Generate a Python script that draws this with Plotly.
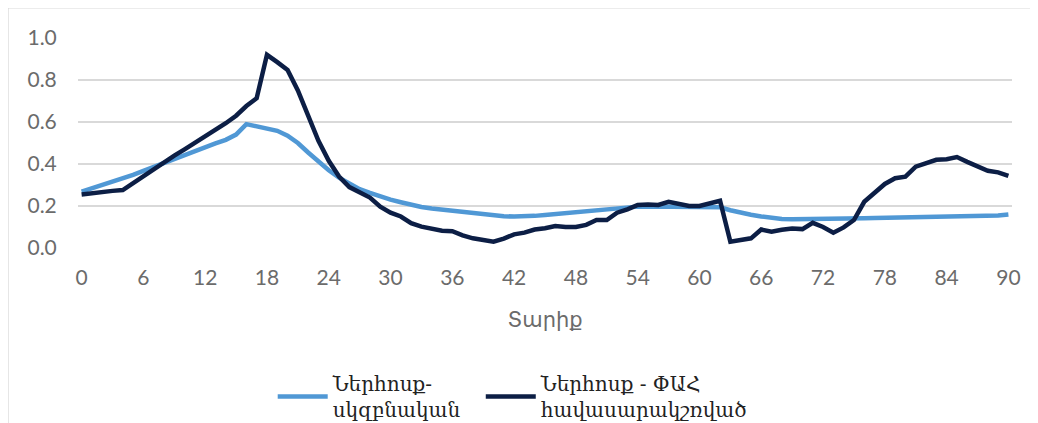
import plotly.graph_objects as go

days = list(range(0, 91))

inflow_initial = [
    0.268, 0.283, 0.298, 0.314, 0.330, 0.348, 0.367, 0.386, 0.405, 0.425,
    0.445, 0.463, 0.480, 0.498, 0.515, 0.540, 0.590, 0.578, 0.570, 0.558,
    0.535, 0.500, 0.455, 0.410, 0.370, 0.335, 0.305, 0.280, 0.262, 0.245,
    0.230, 0.218, 0.205, 0.195, 0.188, 0.182, 0.178, 0.172, 0.166, 0.160,
    0.155, 0.151, 0.150, 0.150, 0.153, 0.157, 0.162, 0.166, 0.170, 0.174,
    0.178, 0.183, 0.188, 0.193, 0.197, 0.198, 0.198, 0.197, 0.196, 0.196,
    0.196, 0.196, 0.194, 0.180, 0.168, 0.158, 0.150, 0.142, 0.138, 0.137,
    0.137, 0.137, 0.137, 0.138, 0.140, 0.141, 0.142, 0.143, 0.144, 0.145,
    0.146, 0.148, 0.149, 0.150, 0.151, 0.152, 0.152, 0.152, 0.152, 0.155,
    0.160,
]

inflow_balanced = [
    0.255, 0.262, 0.268, 0.272, 0.276, 0.310, 0.343, 0.376, 0.410, 0.440,
    0.470, 0.500, 0.530, 0.560, 0.594, 0.630, 0.676, 0.713, 0.920, 0.885,
    0.848, 0.750, 0.630, 0.510, 0.415, 0.340, 0.290, 0.265, 0.240, 0.197,
    0.168, 0.150, 0.118, 0.102, 0.092, 0.082, 0.080, 0.060, 0.046, 0.038,
    0.030, 0.045, 0.065, 0.073, 0.088, 0.094, 0.105, 0.100, 0.100, 0.110,
    0.133, 0.133, 0.168, 0.184, 0.205, 0.207, 0.205, 0.220, 0.212, 0.200,
    0.200, 0.215, 0.225, 0.030, 0.040, 0.046, 0.088, 0.078, 0.087, 0.093,
    0.090, 0.120, 0.100, 0.073, 0.098, 0.133, 0.220, 0.260, 0.305, 0.332,
    0.340, 0.387, 0.405, 0.420, 0.423, 0.433, 0.410, 0.390, 0.368, 0.360,
    0.343,
]

x_ticks = list(range(0, 91, 6))
y_ticks = [0.0, 0.2, 0.4, 0.6, 0.8, 1.0]
y_tick_text = ["0.0", "0.2", "0.4", "0.6", "0.8", "1.0"]

name_initial = "Ներհոսք-<br>սկզբնական"
name_balanced = "Ներհոսք - ՓԱՀ<br>հավասարակշռված"
x_title = "Տարիք"

fig = go.Figure()
fig.add_trace(go.Scatter(
    x=days, y=inflow_initial, mode="lines", name=name_initial,
    line=dict(color="#5098D5", width=4.5), legend="legend",
))
fig.add_trace(go.Scatter(
    x=days, y=inflow_balanced, mode="lines", name=name_balanced,
    line=dict(color="#0C1E45", width=4.5), legend="legend2",
))

tick_font = dict(family="Lato, 'DejaVu Sans', sans-serif", size=21, color="#6B6B6B")
legend_font = dict(family="'DejaVu Serif', serif", size=20, color="#222222")

fig.update_layout(
    width=1030, height=415,
    margin=dict(l=70, r=26, t=30, b=175, autoexpand=False),
    paper_bgcolor="white", plot_bgcolor="white",
    showlegend=True,
    legend=dict(
        orientation="h", xref="container", yref="container",
        x=0.257, xanchor="left", y=0.142, yanchor="top",
        font=legend_font, itemwidth=50, bgcolor="rgba(0,0,0,0)",
    ),
    legend2=dict(
        orientation="h", xref="container", yref="container",
        x=0.459, xanchor="left", y=0.142, yanchor="top",
        font=legend_font, itemwidth=50, bgcolor="rgba(0,0,0,0)",
    ),
    xaxis=dict(
        range=[-0.35, 90.35], tickvals=x_ticks, showgrid=False, zeroline=False,
        showline=False, ticks="outside", ticklen=11, tickcolor="rgba(0,0,0,0)",
        tickfont=tick_font, automargin=False,
        title=dict(text=x_title, font=dict(family="Lato, 'DejaVu Sans', sans-serif", size=21, color="#6B6B6B"), standoff=24),
    ),
    yaxis=dict(
        range=[0, 1.0], tickvals=y_ticks, ticktext=y_tick_text,
        showgrid=True, gridcolor="#D9D9D9", gridwidth=1.5, zeroline=False,
        showline=False, ticks="outside", ticklen=16, tickcolor="rgba(0,0,0,0)",
        tickfont=tick_font, automargin=False,
    ),
    shapes=[dict(
        type="rect", xref="paper", yref="paper",
        x0=-0.0749, x1=1.0225, y0=-0.9, y1=1.143,
        line=dict(color="#D9D9D9", width=1.2), fillcolor="rgba(0,0,0,0)", layer="below",
    )],
)

fig.write_html("out.html")
